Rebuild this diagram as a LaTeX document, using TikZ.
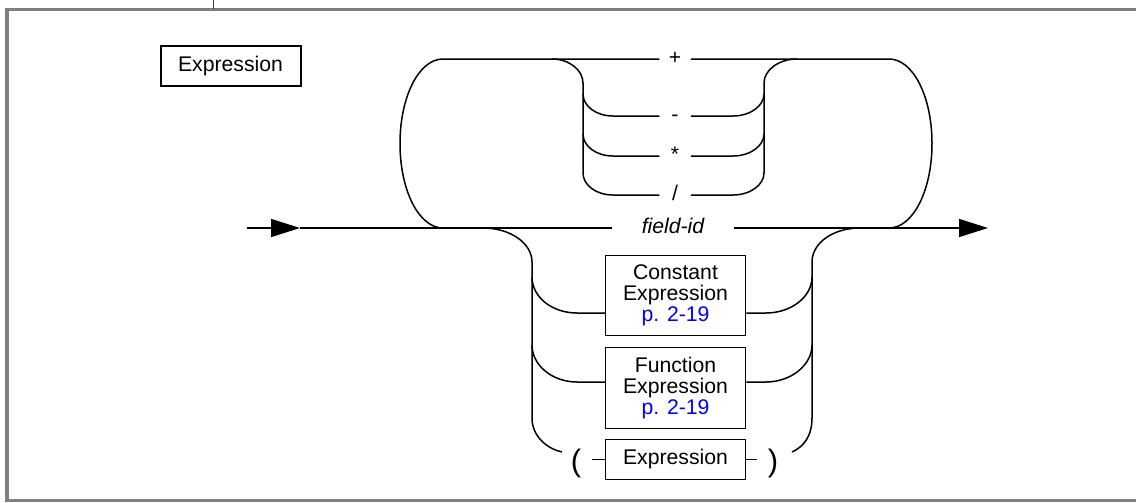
\documentclass[tikz,border=0pt]{standalone}
\usepackage{fontspec}
\setmainfont{Liberation Sans}
\usetikzlibrary{arrows.meta}
\definecolor{framegray}{RGB}{128,128,128}
\definecolor{tickgray}{RGB}{60,60,60}
\begin{document}
\begin{tikzpicture}[x=0.5pt,y=-0.5pt,line width=0.75pt,
    font=\fontsize{10.6}{10.6}\selectfont,
    box/.style={draw,minimum width=70pt,inner sep=0pt,align=center},
    op/.style={inner sep=0pt,minimum width=15pt,text height=7pt,text depth=2pt},
    paren/.style={inner xsep=4.9pt,inner ysep=0pt,font=\fontsize{15.5}{15.5}\selectfont},
    tip/.style={-{Triangle[length=14.5pt,width=9pt]}}]
    \useasboundingbox (0,0) rectangle (1136,503);
    % frame
    \draw[framegray,line width=1.6pt] (1136,9.5) -- (7,9.5) -- (7,500.5) -- (1136,500.5);
    \draw[tickgray,line width=0.5pt] (213,0) -- (213,9);

    \node[box,line width=1pt,minimum height=20pt] (title) at (230.5,66) {Expression};

    \node[op] (plus) at (675,59) {+};
    \node[op] (minus) at (675,116) {-};
    \node[op] (star) at (675,156) {*};
    \node[op] (slash) at (675,195) {/};
    \node[op,minimum width=60pt,font=\fontsize{10.6}{10.6}\selectfont\itshape] (fid) at (673,228) {field-id};
    \node[box,minimum height=40pt] (cexpr) at (675.5,295.5) {Constant\\Expression\\\textcolor{blue}{p. 2-19}};
    \node[box,minimum height=40.5pt] (fexpr) at (675.5,388) {Function\\Expression\\\textcolor{blue}{p. 2-19}};
    \node[box,minimum height=20pt] (pexpr) at (675.5,459.5) {Expression};
    \node[paren] (lp) at (576,463) {(};
    \node[paren] (rp) at (773,463) {)};

    \coordinate (in) at (247,228);
    \coordinate (mid) at (300,228);
    \coordinate (out) at (988,228);
    \coordinate (lt) at (443,59); \coordinate (ll) at (400,143.5); \coordinate (lb) at (443,228);
    \coordinate (rt) at (889,59); \coordinate (rr) at (932,143.5); \coordinate (rb) at (889,228);
    \coordinate (ilt) at (552,59); \coordinate (ilv) at (583,83); \coordinate (ilb) at (583,173);
    \coordinate (ilm) at (583,94); \coordinate (ils) at (583,134);
    \coordinate (irt) at (797,59); \coordinate (irv) at (764,83); \coordinate (irb) at (764,173);
    \coordinate (irm) at (764,94); \coordinate (irs) at (764,134);
    \coordinate (lbt) at (483,228); \coordinate (lbv) at (532,262); \coordinate (lbb) at (532,418);
    \coordinate (lbc) at (532,277); \coordinate (lbf) at (532,345); \coordinate (lbe) at (562,452);
    \coordinate (rbt) at (860,228); \coordinate (rbv) at (812,262); \coordinate (rbb) at (812,418);
    \coordinate (rbc) at (812,277); \coordinate (rbf) at (812,345); \coordinate (rbe) at (792,452);

    % main line
    \draw[tip] (in) -- (mid); \draw (mid) -- (fid); \draw[tip] (fid) -- (out);

    % loop over the operators
    \draw (lb) .. controls +(-24,0) and +(0,47) .. (ll) .. controls +(0,-47) and +(-24,0) .. (lt) -- (plus);
    \draw (plus) -- (rt) .. controls +(24,0) and +(0,-47) .. (rr) .. controls +(0,47) and +(24,0) .. (rb);
    \draw (ilt) .. controls +(17,0) and +(0,-13) .. (ilv) -- (ilb) .. controls +(0,12) and +(-17,0) .. (613,195) -- (slash);
    \draw (ilm) .. controls +(0,12) and +(-17,0) .. (613,116) -- (minus);
    \draw (ils) .. controls +(0,12) and +(-17,0) .. (613,156) -- (star);
    \draw (irt) .. controls +(-18,0) and +(0,-13) .. (irv) -- (irb) .. controls +(0,12) and +(17,0) .. (733,195) -- (slash);
    \draw (irm) .. controls +(0,12) and +(17,0) .. (733,116) -- (minus);
    \draw (irs) .. controls +(0,12) and +(17,0) .. (733,156) -- (star);

    % alternatives below
    \draw (lbt) .. controls +(27,0) and +(0,-19) .. (lbv) -- (lbb) .. controls +(0,19) and +(-14,-3) .. (lbe);
    \draw (lbc) .. controls +(0,20) and +(-25,0) .. (577,313) -- (cexpr.west |- 0,313);
    \draw (lbf) .. controls +(0,20) and +(-25,0) .. (577,382) -- (fexpr.west |- 0,382);
    \draw (rbt) .. controls +(-27,0) and +(0,-19) .. (rbv) -- (rbb) .. controls +(0,19) and +(11,-5) .. (rbe);
    \draw (rbc) .. controls +(0,20) and +(25,0) .. (766,313) -- (cexpr.east |- 0,313);
    \draw (rbf) .. controls +(0,20) and +(25,0) .. (766,382) -- (fexpr.east |- 0,382);
    \draw (pexpr.west) -- (lp.east |- pexpr.west);
    \draw (pexpr.east) -- (rp.west |- pexpr.east);
\end{tikzpicture}
\end{document}
